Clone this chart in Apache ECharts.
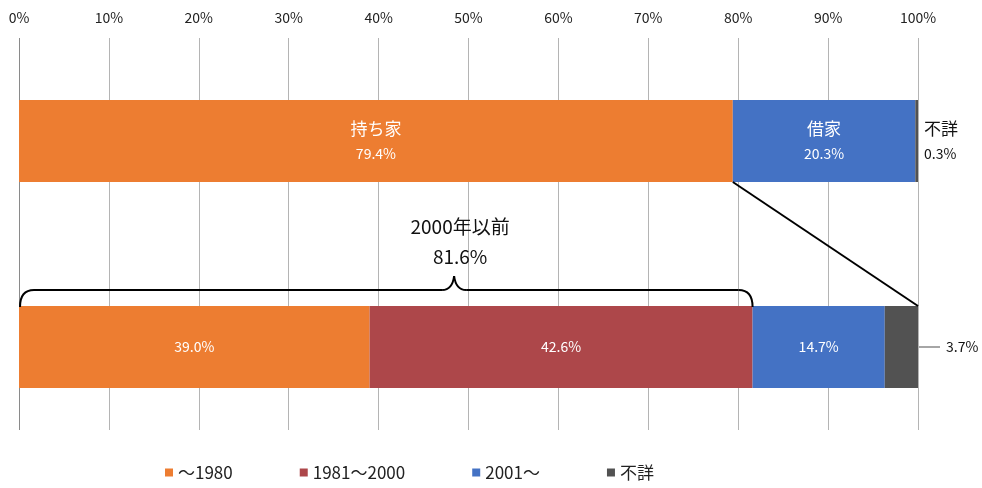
<!DOCTYPE html>
<html>
<head>
<meta charset="utf-8">
<script src="https://cdn.jsdelivr.net/npm/echarts@6/dist/echarts.min.js"></script>
<style>html,body{margin:0;padding:0;background:#fff}#c{width:982px;height:488px}</style>
</head>
<body>
<div id="c"></div>
<script>
// ---- data ----
const rows = ['住宅の所有関係', '建築年'];
const tenureNames = ['持ち家', '借家', '不詳'];
const tenureValues = [79.4, 20.3, 0.3];
const yearNames = ['～1980', '1981～2000', '2001～', '不詳'];
const yearValues = [39.0, 42.6, 14.7, 3.7];
const tenureToYearSeries = [0, 2, 3]; // which stacked series carries each tenure part
const before2000Label = '2000年以前';
const before2000Value = 81.6;
const braceTipValue = 48.4;
const xTicks = [0, 10, 20, 30, 40, 50, 60, 70, 80, 90, 100];

const colors = ['#ED7D31', '#AD474A', '#4472C4', '#525252'];
const FONT = '"Noto Sans CJK JP", "Noto Sans", sans-serif';
const BAR_W = 82;

const chart = echarts.init(document.getElementById('c'));

function fmt(v) { return v.toFixed(1) + '%'; }

const series = yearNames.map((name, si) => {
  const tIdx = tenureToYearSeries.indexOf(si);
  const dark = si === 3;
  const d0 = tIdx >= 0 ? {
    value: tenureValues[tIdx],
    label: {
      show: true,
      position: dark ? 'right' : 'inside',
      distance: 6,
      align: dark ? 'left' : 'center',
      formatter: '{a|' + tenureNames[tIdx] + '}\n{b|' + fmt(tenureValues[tIdx]) + '}',
      rich: {
        a: { fontSize: 17, lineHeight: 25, color: dark ? '#111' : '#fff', fontFamily: FONT, align: dark ? 'left' : 'center' },
        b: { fontSize: 14, lineHeight: 25, color: dark ? '#111' : '#fff', fontFamily: FONT, align: dark ? 'left' : 'center' }
      }
    }
  } : '-';
  const d1 = {
    value: yearValues[si],
    label: {
      show: true,
      position: dark ? 'right' : 'inside',
      distance: 28,
      formatter: fmt(yearValues[si]),
      color: dark ? '#111' : '#fff',
      fontSize: 14,
      fontFamily: FONT
    }
  };
  return {
    name: name,
    type: 'bar',
    stack: 'all',
    xAxisIndex: 1,
    yAxisIndex: 1,
    barWidth: BAR_W,
    itemStyle: { color: colors[si] },
    emphasis: { disabled: true },
    animation: false,
    data: [d0, d1]
  };
});

const splitColors = xTicks.map((t, i) => i === 0 ? '#8a8a8a' : '#b4b4b4');

const option = {
  animation: false,
  textStyle: { fontFamily: FONT },
  grid: [
    { left: 19, right: 64, top: 38, bottom: 58 },
    { left: 19, right: 64, top: 38, bottom: 38 }
  ],
  xAxis: [
    {
      gridIndex: 0, type: 'value', position: 'top', min: 0, max: 100, interval: 10,
      axisLine: { show: false }, axisTick: { show: false },
      splitLine: { show: true, lineStyle: { color: splitColors, width: 1 } },
      axisLabel: { formatter: '{value}%', fontSize: 14, color: '#222', margin: 13, fontFamily: FONT }
    },
    {
      gridIndex: 1, type: 'value', min: 0, max: 100, show: false
    }
  ],
  yAxis: [
    { gridIndex: 0, type: 'value', show: false },
    { gridIndex: 1, type: 'category', data: rows, inverse: true, show: false }
  ],
  legend: {
    bottom: 2,
    left: 160,
    itemWidth: 8, itemHeight: 8, itemGap: 67,
    icon: 'rect',
    textStyle: { fontSize: 17, color: '#222', fontFamily: FONT },
    data: yearNames
  },
  series: series
};

chart.setOption(option);

// annotations anchored to the axes
const px = (v, c) => chart.convertToPixel({ xAxisIndex: 1, yAxisIndex: 1 }, [v, c]);
const r0 = px(0, 0), r1 = px(0, 1);
const bar1Bottom = r0[1] + BAR_W / 2;
const bar2Top = r1[1] - BAR_W / 2;
const ownEnd = px(tenureValues[0], 0)[0];
const x100 = px(100, 1)[0];
const x0 = px(0, 1)[0] + 1;
const x816 = px(before2000Value, 1)[0];
const tipX = px(braceTipValue, 1)[0];
const yTop = bar2Top - 16;
const rr = 14;
const ls = { stroke: '#000', lineWidth: 2, fill: null };

chart.setOption({
  graphic: [
    { type: 'line', shape: { x1: ownEnd, y1: bar1Bottom, x2: x100, y2: bar2Top }, style: { stroke: '#000', lineWidth: 2 }, z: 10 },
    // brace
    { type: 'bezierCurve', shape: { x1: x0, y1: bar2Top + 1, cpx1: x0, cpy1: yTop, x2: x0 + rr, y2: yTop }, style: ls, z: 10 },
    { type: 'line', shape: { x1: x0 + rr, y1: yTop, x2: tipX - 12, y2: yTop }, style: ls, z: 10 },
    { type: 'bezierCurve', shape: { x1: tipX - 12, y1: yTop, cpx1: tipX - 4, cpy1: yTop, cpx2: tipX - 1, cpy2: yTop - 6, x2: tipX, y2: yTop - 14 }, style: ls, z: 10 },
    { type: 'bezierCurve', shape: { x1: tipX, y1: yTop - 14, cpx1: tipX + 1, cpy1: yTop - 6, cpx2: tipX + 4, cpy2: yTop, x2: tipX + 12, y2: yTop }, style: ls, z: 10 },
    { type: 'line', shape: { x1: tipX + 12, y1: yTop, x2: x816 - rr, y2: yTop }, style: ls, z: 10 },
    { type: 'bezierCurve', shape: { x1: x816 - rr, y1: yTop, cpx1: x816, cpy1: yTop, x2: x816, y2: bar2Top + 1 }, style: ls, z: 10 },
    // leader for 3.7%
    { type: 'line', shape: { x1: x100 + 1, y1: r1[1], x2: x100 + 22, y2: r1[1] }, style: { stroke: '#a6a6a6', lineWidth: 2 }, z: 10 },
    { type: 'text', x: tipX + 6, y: yTop - 63, style: { text: before2000Label, fill: '#111', font: '19px ' + FONT, align: 'center', verticalAlign: 'middle' }, z: 10 },
    { type: 'text', x: tipX + 6, y: yTop - 33, style: { text: fmt(before2000Value), fill: '#111', font: '19px ' + FONT, align: 'center', verticalAlign: 'middle' }, z: 10 }
  ]
});
</script>
</body>
</html>
